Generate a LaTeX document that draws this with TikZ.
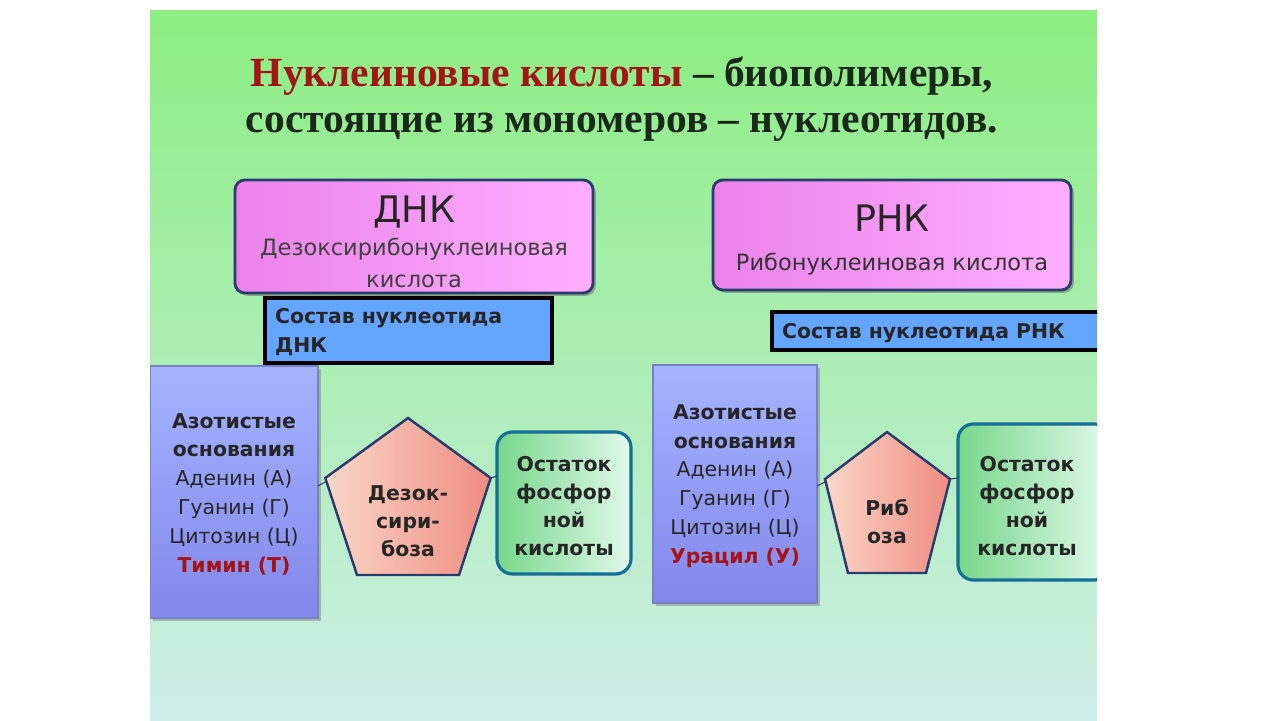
\documentclass[tikz,border=0pt]{standalone}
\usepackage{fontspec}
\setmainfont{DejaVu Sans}
\newfontfamily\titlefont{Liberation Serif}
\usetikzlibrary{shadows}
\definecolor{titlered}{RGB}{165,20,20}
\definecolor{tdark}{RGB}{25,40,25}
\definecolor{edge}{RGB}{40,60,110}
\tikzset{
  lbl/.style={align=center, inner sep=0pt},
  bigbox/.style={draw=edge, line width=4pt, rounded corners=14pt, left color={rgb,255:red,235;green,130;blue,235}, right color={rgb,255:red,255;green,175;blue,255}, drop shadow={shadow xshift=4pt, shadow yshift=-4pt, fill=black!60}},
  sostav/.style={draw=black, line width=4.5pt, fill={rgb,255:red,100;green,165;blue,255}},
  basebox/.style={draw={rgb,255:red,120;green,130;blue,200}, line width=4pt, top color={rgb,255:red,165;green,180;blue,255}, bottom color={rgb,255:red,130;green,135;blue,235}, drop shadow={shadow xshift=4pt, shadow yshift=-4pt, fill=black!50}},
  pent/.style={draw=edge, line width=3.5pt, left color={rgb,255:red,250;green,215;blue,200}, right color={rgb,255:red,240;green,140;blue,130}},
  phos/.style={draw={rgb,255:red,20;green,110;blue,150}, line width=4.5pt, rounded corners=22pt, left color={rgb,255:red,120;green,215;blue,140}, right color={rgb,255:red,225;green,250;blue,235}},
  conn/.style={draw=edge, line width=1.5pt}
}
\begin{document}
\begin{tikzpicture}[x=0.05cm,y=-0.05cm]
\useasboundingbox (0,0) rectangle (1280,720);
\fill[white] (0,0) rectangle (1280,720);
\shade[top color={rgb,255:red,140;green,238;blue,130}, bottom color={rgb,255:red,205;green,238;blue,232}] (150,10) rectangle (1097,720);
\begin{scope}
\clip (150,10) rectangle (1097,720);
% title
\node[lbl, font=\titlefont\bfseries\fontsize{59}{59}\selectfont, text=tdark] (t1) at (622,76) {\textcolor{titlered}{Нуклеиновые кислоты} – биополимеры,};
\node[lbl, font=\titlefont\bfseries\fontsize{59}{59}\selectfont, text=tdark] (t2) at (622,127) {состоящие из мономеров – нуклеотидов.};
% DNA / RNA
\path[bigbox] (235,180) rectangle (593,293);
\node[lbl, font=\fontsize{52}{52}\selectfont, text=black!85] (dnk) at (414,212) {ДНК};
\node[lbl, font=\fontsize{32}{46}\selectfont, text=black!75] (dnkd) at (414,263) {Дезоксирибонуклеиновая\\кислота};
\path[bigbox] (713,180) rectangle (1071,290);
\node[lbl, font=\fontsize{52}{52}\selectfont, text=black!85] (rnk) at (892,218) {РНК};
\node[lbl, font=\fontsize{32}{32}\selectfont, text=black!80] (rnkd) at (892,264) {Рибонуклеиновая кислота};
% sostav
\draw[sostav] (265,298) rectangle (552,363);
\node[anchor=west, align=left, inner sep=0pt, font=\bfseries\fontsize{29}{40}\selectfont, text=black!85] (sd) at (275,332) {Состав нуклеотида\\ДНК};
\draw[sostav] (772,312) rectangle (1110,350);
\node[anchor=west, inner sep=0pt, font=\bfseries\fontsize{29}{29}\selectfont, text=black!85] (sr) at (782,333) {Состав нуклеотида РНК};
% bases DNA
\path[basebox] (150,366) rectangle (318,618);
\node[lbl, font=\fontsize{29}{41}\selectfont, text=black!85] (b1) at (234,494) {\textbf{Азотистые}\\\textbf{основания}\\Аденин (А)\\Гуанин (Г)\\Цитозин (Ц)\\\textcolor{titlered}{\textbf{Тимин (Т)}}};
\path[pent] (408,418) -- (490.7,478) -- (459,575) -- (357,575) -- (325.3,478) -- cycle;
\coordinate (p1) at (408,521);
\node[lbl, font=\bfseries\fontsize{29}{40}\selectfont, text=black!85] at (p1) {Дезок-\\сири-\\боза};
\path[phos] (497,432) rectangle (631,574);
\node[lbl, font=\bfseries\fontsize{29}{40}\selectfont, text=black!85] (f1) at (564,506) {Остаток\\фосфор\\ной\\кислоты};
\draw[conn] (318,486) -- (325.3,482);
\draw[conn] (490.7,478) -- (497,476);
% bases RNA
\path[basebox] (653,365) rectangle (817,603);
\node[lbl, font=\fontsize{29}{41}\selectfont, text=black!85] (b2) at (735,486) {\textbf{Азотистые}\\\textbf{основания}\\Аденин (А)\\Гуанин (Г)\\Цитозин (Ц)\\\textcolor{titlered}{\textbf{Урацил (У)}}};
\path[pent] (887,432) -- (950,479) -- (926,573) -- (848,573) -- (825,479) -- cycle;
\node[lbl, font=\bfseries\fontsize{29}{40}\selectfont, text=black!85] (p2) at (887,522) {Риб\\оза};
\path[phos] (958,424) rectangle (1110,580);
\node[lbl, font=\bfseries\fontsize{29}{40}\selectfont, text=black!85] (f2) at (1027,506) {Остаток\\фосфор\\ной\\кислоты};
\draw[conn] (817,486) -- (825,482);
\draw[conn] (950,479) -- (958,478);
\end{scope}
\end{tikzpicture}
\end{document}
